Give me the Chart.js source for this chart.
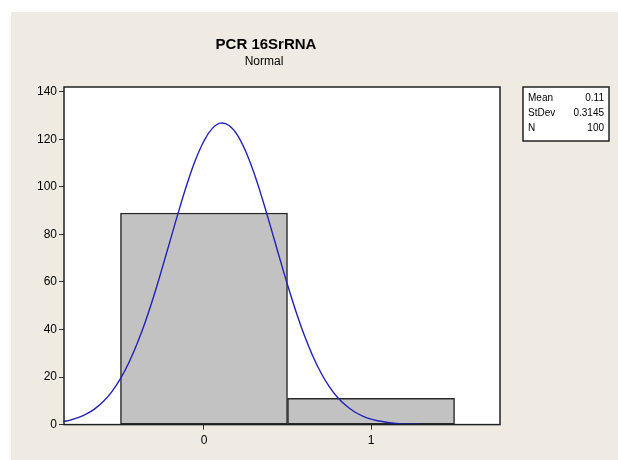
<!DOCTYPE html>
<html>
<head>
<meta charset="utf-8">
<script src="https://cdn.jsdelivr.net/npm/chart.js@4/dist/chart.umd.min.js"></script>
<style>
html,body{margin:0;padding:0;background:#ffffff;}
#wrap{position:absolute;left:0;top:0;width:618px;height:460px;}
</style>
</head>
<body>
<div id="wrap"><canvas id="c" width="618" height="460"></canvas></div>
<script>
const titleText = "PCR 16SrRNA";
const subtitleText = "Normal";
const binCenters = [0, 1];
const binCounts = [89, 11];
const xTicks = [0, 1];
const yTicks = [0, 20, 40, 60, 80, 100, 120, 140];
const curveX = [-0.84, -0.8, -0.75, -0.7, -0.65, -0.6, -0.55, -0.5, -0.45, -0.4, -0.35, -0.3, -0.25, -0.2, -0.15, -0.1, -0.05, 0, 0.05, 0.1, 0.15, 0.2, 0.25, 0.3, 0.35, 0.4, 0.45, 0.5, 0.55, 0.6, 0.65, 0.7, 0.75, 0.8, 0.85, 0.9, 0.95, 1.0, 1.05, 1.1, 1.15, 1.2, 1.25, 1.3];
const curveY = [1.3, 1.9, 3.0, 4.6, 6.8, 9.9, 14.0, 19.3, 26.0, 34.1, 43.5, 54.2, 65.9, 78.0, 90.1, 101.5, 111.5, 119.3, 124.6, 126.8, 125.8, 121.8, 114.9, 105.7, 94.8, 82.9, 70.7, 58.8, 47.7, 37.7, 29.1, 21.8, 16.0, 11.4, 8.0, 5.4, 3.6, 2.3, 1.5, 0.9, 0.5, 0.3, 0.2, 0.1];
const statLabels = ["Mean", "StDev", "N"];
const statValues = ["0.11", "0.3145", "100"];

const FONT = "'Liberation Sans', Arial, sans-serif";

const decor = {
  id: 'decor',
  beforeDraw(chart) {
    const ctx = chart.ctx;
    ctx.save();
    ctx.fillStyle = '#ffffff';
    ctx.fillRect(0, 0, 618, 460);
    ctx.fillStyle = '#efebe2';
    ctx.fillRect(11, 12, 607, 448);
    const a = chart.chartArea;
    ctx.fillStyle = '#ffffff';
    ctx.fillRect(a.left, a.top, a.right - a.left, a.bottom - a.top);
    ctx.restore();
  },
  afterDraw(chart) {
    const ctx = chart.ctx;
    const a = chart.chartArea;
    ctx.save();
    ctx.strokeStyle = '#222222';
    ctx.lineWidth = 1.5;
    ctx.strokeRect(a.left, a.top, a.right - a.left, a.bottom - a.top);
    ctx.fillStyle = '#000000';
    ctx.textAlign = 'center';
    ctx.textBaseline = 'middle';
    ctx.font = "bold 15px " + FONT;
    ctx.fillText(titleText, 266, 45);
    ctx.font = "12px " + FONT;
    ctx.fillText(subtitleText, 264, 62);
    const bx = 523, by = 87, bw = 86, bh = 54;
    ctx.fillStyle = '#ffffff';
    ctx.fillRect(bx, by, bw, bh);
    ctx.strokeStyle = '#222222';
    ctx.lineWidth = 1.5;
    ctx.strokeRect(bx, by, bw, bh);
    ctx.font = "10px " + FONT;
    ctx.fillStyle = '#000000';
    for (let i = 0; i < statLabels.length; i++) {
      const y = by + 11 + i * 15;
      ctx.textAlign = 'left';
      ctx.fillText(statLabels[i], bx + 5, y);
      ctx.textAlign = 'right';
      ctx.fillText(statValues[i], bx + bw - 5, y);
    }
    ctx.restore();
  }
};

new Chart(document.getElementById('c'), {
  type: 'bar',
  data: {
    datasets: [
      {
        type: 'line',
        data: curveX.map((x, i) => ({x: x, y: curveY[i]})),
        borderColor: '#2222b8',
        borderWidth: 1.4,
        pointRadius: 0,
        tension: 0.4,
        fill: false,
        order: 0,
        clip: 2
      },
      {
        type: 'bar',
        data: binCenters.map((x, i) => ({x: x, y: binCounts[i]})),
        backgroundColor: '#c2c2c2',
        borderColor: '#2a2a2a',
        borderWidth: 1.5,
        borderSkipped: false,
        barPercentage: 1.0,
        categoryPercentage: 1.0,
        order: 1
      }
    ]
  },
  plugins: [decor],
  options: {
    responsive: false,
    animation: false,
    events: [],
    layout: { padding: { left: 0, right: 118, top: 87, bottom: 8 } },
    plugins: { legend: { display: false }, tooltip: { enabled: false }, title: { display: false } },
    scales: {
      x: {
        type: 'linear',
        min: -0.838,
        max: 1.772,
        offset: false,
        afterBuildTicks(scale) { scale.ticks = xTicks.map(v => ({value: v})); },
        ticks: { color: '#000', font: { family: FONT, size: 12 }, padding: 4, callback: v => String(v) },
        grid: { offset: false, drawOnChartArea: false, drawTicks: true, tickLength: 5, color: '#333', lineWidth: 1 },
        border: { display: false }
      },
      y: {
        min: 0,
        max: 142,
        afterBuildTicks(scale) { scale.ticks = yTicks.map(v => ({value: v})); },
        ticks: { color: '#000', font: { family: FONT, size: 12 }, padding: 2 },
        grid: { drawOnChartArea: false, drawTicks: true, tickLength: 5, color: '#333', lineWidth: 1 },
        border: { display: false },
        afterFit(scale) { scale.width = 64; }
      }
    }
  }
});
</script>
</body>
</html>
